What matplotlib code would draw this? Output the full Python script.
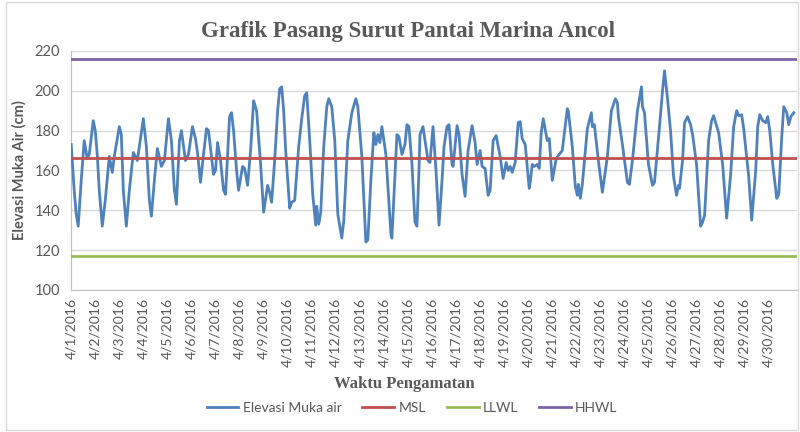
import matplotlib.pyplot as plt
from matplotlib.patches import Rectangle

# hour index from 4/1/2016 00:00 and water level (cm)
hours = [0, 3, 5, 7, 10, 13, 16, 18, 22, 24, 26, 28, 31, 34, 38, 41, 43, 48, 50, 52,
         55, 58, 62, 66, 72, 75, 78, 80, 83, 86, 90, 93, 97, 100, 103, 105, 108, 110, 114, 117,
         121, 124, 126, 129, 132, 135, 137, 142, 144, 146, 149, 152, 154, 158, 160, 162, 165, 167, 171, 173,
         176, 179, 182, 185, 189, 192, 196, 198, 200, 203, 206, 208, 210, 212, 214, 218, 220, 223, 227, 230,
         233, 235, 238, 241, 244, 245, 247, 249, 252, 255, 257, 260, 263, 266, 270, 272, 276, 280, 284, 286,
         290, 294, 296, 299, 302, 304, 306, 308, 310, 314, 319, 320, 325, 327, 330, 333, 335, 337, 340, 343,
         345, 347, 348, 351, 354, 356, 358, 361, 364, 367, 370, 372, 375, 377, 380, 381, 385, 387, 390, 393,
         396, 400, 403, 405, 408, 410, 413, 416, 418, 421, 424, 428, 431, 434, 436, 438, 440, 443, 446, 448,
         450, 453, 457, 458, 460, 462, 465, 467, 469, 471, 475, 477, 480, 484, 486, 490, 495, 496, 500, 503,
         505, 506, 508, 510, 515, 519, 520, 522, 526, 530, 535, 539, 543, 545, 546, 550, 555, 557, 560, 565,
         569, 570, 572, 576, 580, 582, 587, 590, 592, 595, 598, 601, 604, 606, 607, 610, 612, 615, 618, 620,
         624, 628, 630, 632, 636, 639, 641, 643, 646, 650, 654, 658, 661, 664, 666, 669, 671, 676, 679, 683,
         685, 687, 690, 693, 695, 697, 700, 704, 706, 709, 711, 714, 716, 718, 721]
elevasi = [173, 150, 138, 132, 155, 175, 166, 168, 185, 180, 168, 150, 132, 145, 167, 159, 167, 182, 178, 150,
           132, 150, 169, 165, 186, 172, 145, 137, 155, 171, 162, 165, 186, 175, 150, 143, 175, 180, 165, 168,
           182, 176, 169, 154, 168, 181, 180, 158, 160, 174, 165, 150, 148, 187, 189, 180, 160, 150, 162, 161,
           152.5, 170, 195, 190, 163, 139, 152.5, 149, 144, 165, 190, 201, 202, 190, 170, 141, 144, 145, 172, 186,
           197.5, 199, 175, 148, 132.5, 142, 133, 139, 172, 192, 196, 192, 175, 138, 126, 135, 175, 189, 196, 192,
           167, 124, 125, 155, 179, 173, 178, 174, 182, 168, 128, 126, 178, 177, 168, 173, 183, 182, 163, 134,
           132, 160, 178, 182, 172, 165, 164, 182, 160, 132.5, 155, 172, 182, 183, 163, 162, 182.5, 178, 158, 147,
           170, 182.5, 174, 163, 170, 162, 161, 147.5, 150, 175, 177.5, 167, 156, 164, 160, 162, 159, 164, 184, 184.5,
           176, 173, 151, 154, 163, 162, 163, 161, 179, 186, 175, 176, 155, 166, 167.5, 170, 191, 190, 172, 152,
           147.5, 153, 146, 153, 181, 189, 182, 183, 165, 149, 167, 190, 196, 194, 187, 173, 154, 153, 165, 190,
           202, 192, 189, 163, 152.5, 154, 182, 200, 210, 196, 180, 157, 147.5, 152.5, 151, 165, 184, 187, 183, 178,
           163, 132, 134, 137.5, 175, 185, 187.5, 184, 179, 163, 136, 158, 182, 190, 187.5, 188, 181, 157, 135, 160,
           182, 188, 185, 184, 187, 180, 163, 146, 148, 177, 192, 189, 183, 187, 189]

msl = 166.4
llwl = 116.8
hhwl = 215.8

day_labels = [f"4/{d}/2016" for d in range(1, 31)]
day_ticks = [24 * i for i in range(30)]

grey = "#595959"
plt.rcParams['font.family'] = ['Lato', 'DejaVu Sans']

fig = plt.figure(figsize=(8, 4.32), dpi=100)
ax = fig.add_axes([0.089, 0.329, 0.907, 0.553])

ax.plot(hours, elevasi, color="#4F81BD", lw=2, label="Elevasi Muka air", zorder=3)
ax.axhline(msl, color="#C0504D", lw=2, label="MSL", zorder=4)
ax.axhline(llwl, color="#9BBB59", lw=2, label="LLWL", zorder=4)
ax.axhline(hhwl, color="#8064A2", lw=2, label="HHWL", zorder=4)

ax.set_xlim(0, 724)
ax.set_ylim(100, 220)
ax.set_yticks(range(100, 221, 20))
ax.set_xticks(day_ticks)
ax.set_xticklabels(day_labels, rotation=90, fontsize=10, color=grey)
ax.tick_params(axis='y', labelsize=10.5, colors=grey, length=0, pad=8)
ax.tick_params(axis='x', length=0, pad=6)
ax.grid(axis='y', color="#D9D9D9", lw=1)
ax.set_axisbelow(True)
for s in ["top", "right"]:
    ax.spines[s].set_visible(False)
for s in ["left", "bottom"]:
    ax.spines[s].set_color("#BFBFBF")

ax.set_ylabel("Elevasi Muka Air (cm)", fontsize=10.5, fontweight='bold', color=grey, labelpad=6)
fig.text(0.51, 0.928, "Grafik Pasang Surut Pantai Marina Ancol", ha='center', va='center',
         family='Liberation Serif', fontweight='bold', fontsize=16.5, color=grey)
fig.text(0.505, 0.11, "Waktu Pengamatan", ha='center', va='center',
         family='Liberation Serif', fontweight='bold', fontsize=12, color=grey)

fig.legend(loc='center', bbox_to_anchor=(0.515, 0.055), ncol=4, frameon=False,
           fontsize=10, handlelength=2.3, columnspacing=1.5, handletextpad=0.3,
           labelcolor=grey)

fig.patches.append(Rectangle((0.008, 0.005), 0.99, 0.99, transform=fig.transFigure,
                             fill=False, edgecolor="#D9D9D9", lw=1))

fig.savefig("out.png", dpi=100)
